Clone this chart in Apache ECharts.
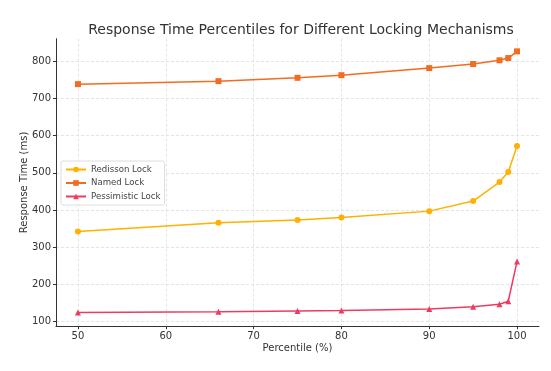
<!DOCTYPE html>
<html><head><meta charset="utf-8">
<script src="https://cdn.jsdelivr.net/npm/echarts@6/dist/echarts.min.js"></script>
<style>html,body{margin:0;padding:0;background:#fff}#c{width:551px;height:371px}</style>
</head><body><div id="c"></div>
<script>
const percentiles = [50, 66, 75, 80, 90, 95, 98, 99, 100];
const redisson = [342, 366, 373, 380, 397, 424, 475, 502, 572];
const named = [738, 746, 755, 762, 781, 792, 802, 808, 826];
const pessimistic = [125, 127, 129, 130, 134, 140, 147, 155, 262];
const xTicks = [50, 60, 70, 80, 90, 100];
const yTicks = [100, 200, 300, 400, 500, 600, 700, 800];

const font = 'DejaVu Sans';
const chart = echarts.init(document.getElementById('c'), null, {renderer: 'canvas'});
function mk(name, data, color, symbol, size) {
  return {
    name, type: 'line', data: percentiles.map((p, i) => [p, data[i]]),
    symbol, symbolSize: size, showSymbol: true,
    lineStyle: {color, width: 1.5}, itemStyle: {color},
    emphasis: {disabled: true}, animation: false
  };
}
chart.setOption({
  animation: false,
  textStyle: {fontFamily: font},
  title: {
    text: 'Response Time Percentiles for Different Locking Mechanisms',
    left: 296, top: 18, textAlign: 'center',
    textStyle: {fontFamily: font, fontSize: 14, fontWeight: 'normal', color: '#333'}
  },
  grid: {left: 56, right: 12, top: 38.7, bottom: 44.8},
  legend: {
    orient: 'vertical', left: 61, top: 161,
    itemWidth: 20, itemHeight: 7, itemGap: 4.5,
    padding: [4, 4, 4, 4],
    borderColor: '#ddd', borderWidth: 1, borderRadius: 2, backgroundColor: 'rgba(255,255,255,0.85)',
    textStyle: {fontFamily: font, fontSize: 8.6, color: '#444'},
    data: ['Redisson Lock', 'Named Lock', 'Pessimistic Lock']
  },
  xAxis: {
    type: 'value', min: 47.5, max: 102.5,
    name: 'Percentile (%)', nameLocation: 'middle', nameGap: 17, nameMoveOverlap: false,
    nameTextStyle: {fontFamily: font, fontSize: 10, color: '#333'},
    axisLine: {show: true, onZero: false, lineStyle: {color: '#333', width: 1}},
    axisTick: {show: true, customValues: xTicks, length: 3, lineStyle: {color: '#333'}},
    axisLabel: {customValues: xTicks, fontFamily: font, fontSize: 10, color: '#333', margin: 5},
    splitLine: {show: true, lineStyle: {color: '#ddd', type: [3, 2], width: 0.8}}
  },
  yAxis: {
    type: 'value', min: 88, max: 860,
    name: 'Response Time (ms)', nameLocation: 'middle', nameGap: 27, nameRotate: 90, nameMoveOverlap: false,
    nameTextStyle: {fontFamily: font, fontSize: 10, color: '#333'},
    axisLine: {show: true, onZero: false, lineStyle: {color: '#333', width: 1}},
    axisTick: {show: true, customValues: yTicks, length: 3, lineStyle: {color: '#333'}},
    axisLabel: {customValues: yTicks, fontFamily: font, fontSize: 10, color: '#333', margin: 5},
    splitLine: {show: true, lineStyle: {color: '#ddd', type: [3, 2], width: 0.8}}
  },
  series: [
    mk('Redisson Lock', redisson, '#ffb000', 'circle', 6),
    mk('Named Lock', named, '#f26c22', 'rect', 6),
    mk('Pessimistic Lock', pessimistic, '#ee3b60', 'triangle', 6)
  ]
});
</script></body></html>
